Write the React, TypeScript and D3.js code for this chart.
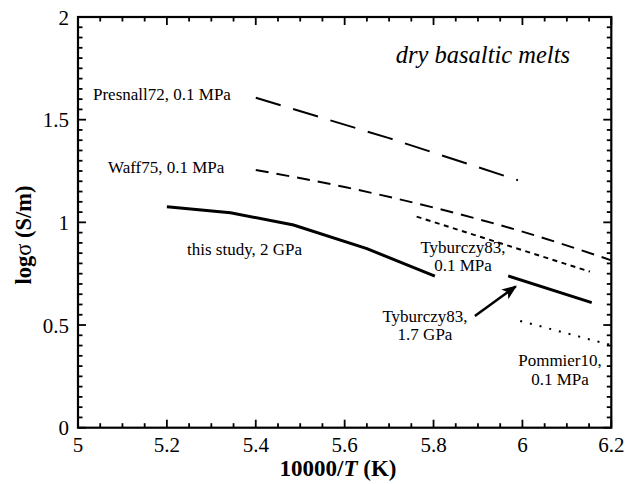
import React from "react";
import * as d3 from "d3";

const presnall72: [number, number][] = [[5.4, 1.607], [5.7, 1.41], [5.99, 1.205]];
const waff75: [number, number][] = [[5.4, 1.255], [5.6, 1.172], [5.8, 1.072], [6.0, 0.955], [6.2, 0.815]];
const thisStudy: [number, number][] = [[5.2, 1.076], [5.343, 1.047], [5.485, 0.987], [5.65, 0.872], [5.803, 0.738]];
const tyb83Low: [number, number][] = [[5.762, 1.028], [6.152, 0.76]];
const tyb83High: [number, number][] = [[5.968, 0.739], [6.156, 0.609]];
const pommier10: [number, number][] = [[5.995, 0.52], [6.2, 0.402]];
const arrowPts: [number, number][] = [[5.893, 0.544], [5.985, 0.688]];

const xMajor = [5, 5.2, 5.4, 5.6, 5.8, 6, 6.2];
const yMajor = [0, 0.5, 1, 1.5, 2];

const W = 633, H = 484;
const FONT = "'Liberation Serif', 'Times New Roman', serif";

export default function App() {
  const x = d3.scaleLinear().domain([5, 6.2]).range([78, 611.3]);
  const y = d3.scaleLinear().domain([0, 2]).range([427.7, 17]);
  const lin = d3.line<[number, number]>().x(d => x(d[0])).y(d => y(d[1]));
  const smooth = d3.line<[number, number]>().x(d => x(d[0])).y(d => y(d[1])).curve(d3.curveMonotoneX);

  const xMinor = d3.range(0, 25).map(i => 5 + i * 0.05).filter(v => !xMajor.some(m => Math.abs(m - v) < 1e-6));
  const yMinor = d3.range(0, 41).map(i => i * 0.05).filter(v => !yMajor.some(m => Math.abs(m - v) < 1e-6));

  const x0 = x(5), x1 = x(6.2), y0 = y(0), y1 = y(2);
  const maj = 8, mnr = 4.5;

  return (
    <svg width={W} height={H} style={{ position: "absolute", left: 0, top: 0, background: "#fff" }} fontFamily={FONT}>
      <defs>
        <marker id="ah" viewBox="0 0 10 10" refX="9" refY="5" markerWidth="6" markerHeight="6" orient="auto" markerUnits="strokeWidth">
          <path d="M0,1 L10,5 L0,9 L2.5,5 Z" fill="#000" />
        </marker>
      </defs>
      {/* ticks */}
      <g stroke="#000" strokeWidth={1.8}>
        {xMajor.map(v => (
          <g key={"xm" + v}>
            <line x1={x(v)} x2={x(v)} y1={y0} y2={y0 - maj} />
            <line x1={x(v)} x2={x(v)} y1={y1} y2={y1 + maj} />
          </g>
        ))}
        {xMinor.map(v => (
          <g key={"xn" + v}>
            <line x1={x(v)} x2={x(v)} y1={y0} y2={y0 - mnr} />
            <line x1={x(v)} x2={x(v)} y1={y1} y2={y1 + mnr} />
          </g>
        ))}
        {yMajor.map(v => (
          <g key={"ym" + v}>
            <line x1={x0} x2={x0 + maj} y1={y(v)} y2={y(v)} />
            <line x1={x1} x2={x1 - maj} y1={y(v)} y2={y(v)} />
          </g>
        ))}
        {yMinor.map(v => (
          <g key={"yn" + v}>
            <line x1={x0} x2={x0 + mnr} y1={y(v)} y2={y(v)} />
            <line x1={x1} x2={x1 - mnr} y1={y(v)} y2={y(v)} />
          </g>
        ))}
      </g>
      <rect x={x0} y={y1} width={x1 - x0} height={y0 - y1} fill="none" stroke="#000" strokeWidth={2.2} />
      {/* tick labels */}
      <g fontSize={21} fill="#000">
        {xMajor.map(v => (
          <text key={"xl" + v} x={x(v)} y={452} textAnchor="middle">{String(v)}</text>
        ))}
        {yMajor.map(v => (
          <text key={"yl" + v} x={69} y={y(v) + 7.5} textAnchor="end">{String(v)}</text>
        ))}
      </g>
      {/* axis titles */}
      <text x={338} y={476} textAnchor="middle" fontSize={23} fontWeight="bold">
        10000/<tspan fontStyle="italic">T</tspan> (K)
      </text>
      <text transform="translate(31,235) rotate(-90)" textAnchor="middle" fontSize={22.5} fontWeight="bold">
        log<tspan fontWeight="normal">σ</tspan> (S/m)
      </text>
      {/* lines */}
      <g fill="none" stroke="#000">
        <path d={lin(presnall72) || ""} strokeWidth={2} strokeDasharray="26 13" />
        <path d={smooth(waff75) || ""} strokeWidth={2} strokeDasharray="13 8" />
        <path d={lin(thisStudy) || ""} strokeWidth={3} />
        <path d={lin(tyb83Low) || ""} strokeWidth={2} strokeDasharray="5 4.5" />
        <path d={lin(tyb83High) || ""} strokeWidth={3} />
        <path d={lin(pommier10) || ""} strokeWidth={2} strokeDasharray="2 8" />
        <path d={lin(arrowPts) || ""} strokeWidth={2.5} markerEnd="url(#ah)" />
      </g>
      {/* annotations */}
      <g fontSize={17} fill="#000">
        <text x={93} y={100}>Presnall72, 0.1 MPa</text>
        <text x={108} y={172.5}>Waff75, 0.1 MPa</text>
        <text x={187} y={255}>this study, 2 GPa</text>
        <text x={463} y={253} textAnchor="middle">Tyburczy83,</text>
        <text x={463} y={271} textAnchor="middle">0.1 MPa</text>
        <text x={425} y={322} textAnchor="middle">Tyburczy83,</text>
        <text x={425} y={340} textAnchor="middle">1.7 GPa</text>
        <text x={560} y={366} textAnchor="middle">Pommier10,</text>
        <text x={560} y={385} textAnchor="middle">0.1 MPa</text>
      </g>
      <text x={570} y={63} textAnchor="end" fontSize={24.5} fontStyle="italic">dry basaltic melts</text>
    </svg>
  );
}
